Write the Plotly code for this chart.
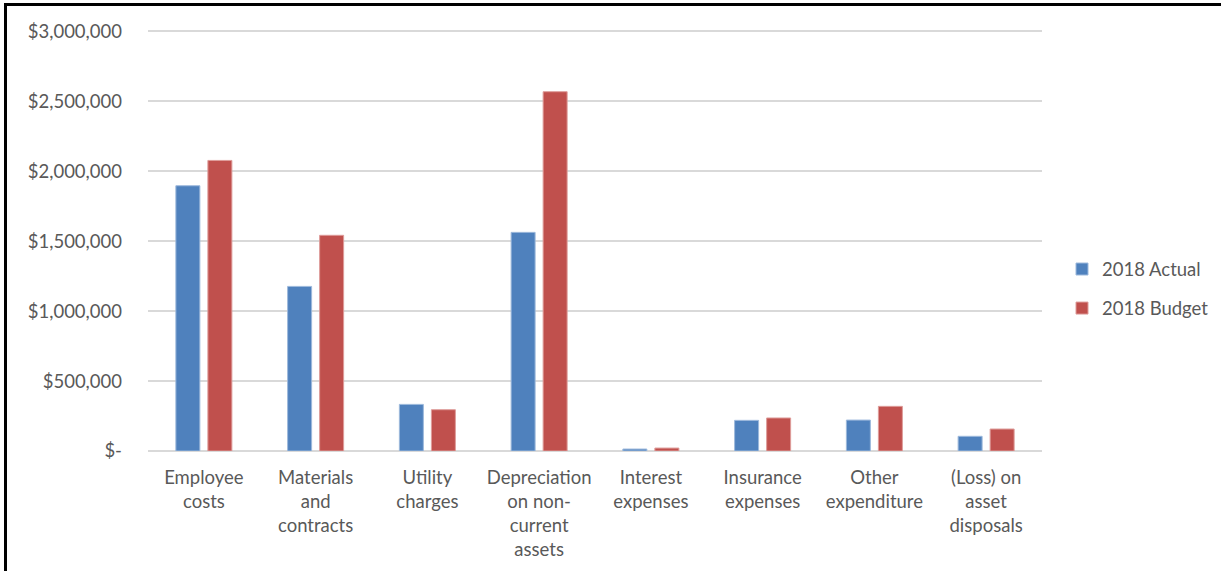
import plotly.graph_objects as go

categories = ["Employee<br>costs", "Materials<br>and<br>contracts", "Utility<br>charges",
              "Depreciation<br>on non-<br>current<br>assets", "Interest<br>expenses",
              "Insurance<br>expenses", "Other<br>expenditure", "(Loss) on<br>asset<br>disposals"]
actual_2018 = [1895000, 1176000, 333000, 1562000, 14000, 219000, 221000, 105000]
budget_2018 = [2076000, 1541000, 295000, 2567000, 21000, 236000, 319000, 157000]
y_tickvals = [0, 500000, 1000000, 1500000, 2000000, 2500000, 3000000]
y_ticktext = ["$-", "$500,000", "$1,000,000", "$1,500,000", "$2,000,000", "$2,500,000", "$3,000,000"]

W, H = 1221, 571
ML, MR, MT, MB = 148, 179, 29, 120
pw, ph = W - ML - MR, H - MT - MB

FONT = "Lato"
GRAY = "#595959"
FS = 18.5

fig = go.Figure()
fig.add_trace(go.Bar(name="2018 Actual", x=categories, y=actual_2018, legendgroup="a",
                     marker=dict(color="#4F81BD", line=dict(color="#9DB9DC", width=1))))
fig.add_trace(go.Bar(name="2018 Budget", x=categories, y=budget_2018, legendgroup="b",
                     marker=dict(color="#C0504D", line=dict(color="#DE9C9A", width=1))))

def px_x(x):
    return (x - ML) / pw

def px_y(y):
    return (H - MB - y) / ph

shapes = [
    dict(type="line", xref="paper", yref="paper", x0=px_x(5.5), x1=px_x(1221), y0=px_y(4.5), y1=px_y(4.5),
         line=dict(color="black", width=3)),
    dict(type="line", xref="paper", yref="paper", x0=px_x(5.5), x1=px_x(5.5), y0=px_y(3), y1=px_y(571),
         line=dict(color="black", width=3)),
]

fig.update_layout(
    width=W, height=H,
    margin=dict(l=ML, r=MR, t=MT, b=MB, autoexpand=False),
    paper_bgcolor="white", plot_bgcolor="white",
    barmode="group", bargap=0.427, bargroupgap=0.25,
    font=dict(family=FONT, size=FS, color=GRAY),
    showlegend=True,
    legend=dict(x=px_x(1062), y=px_y(289), xanchor="left", yanchor="middle",
                font=dict(family=FONT, size=FS, color=GRAY),
                tracegroupgap=12, itemwidth=30),
    shapes=shapes,
)
fig.update_xaxes(showgrid=False, showline=False, ticks="", tickangle=0,
                 tickfont=dict(family=FONT, size=FS, color=GRAY), ticklabelstandoff=13)
fig.update_yaxes(range=[0, 3015000], tickvals=y_tickvals, ticktext=y_ticktext,
                 showgrid=True, gridcolor="#D9D9D9", gridwidth=1.5,
                 zeroline=True, zerolinecolor="#D9D9D9", zerolinewidth=2,
                 showline=False, ticks="", ticklabelstandoff=25,
                 tickfont=dict(family=FONT, size=FS, color=GRAY))

fig.write_html("out.html")
